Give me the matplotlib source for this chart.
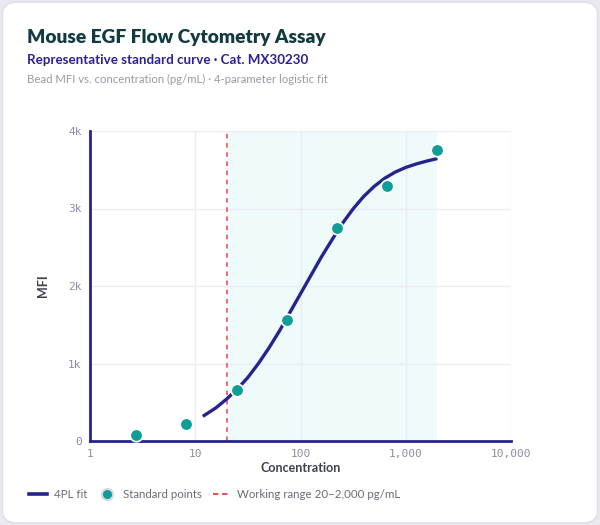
import matplotlib
matplotlib.use("Agg")
import matplotlib.pyplot as plt
from matplotlib.patches import FancyBboxPatch
from matplotlib.lines import Line2D
from matplotlib.ticker import FixedLocator, NullLocator

# ---- data ----
std_conc = [2.74, 8.23, 24.7, 74.1, 222, 667, 2000]
std_mfi = [80, 220, 660, 1560, 2750, 3290, 3750]

fit_conc = [11.8, 15.8, 20, 25.1, 31.6, 39.8, 50.1, 63.1, 79.4, 100, 126, 158,
            200, 251, 316, 398, 501, 631, 794, 1000, 1259, 1585, 2000]
fit_mfi = [318, 430, 545, 670, 820, 1000, 1200, 1420, 1660, 1900, 2140, 2375,
           2600, 2810, 2995, 3155, 3285, 3390, 3470, 3530, 3575, 3612, 3645]

range_low, range_high = 20, 2000
x_ticks = [1, 10, 100, 1000, 10000]
x_tick_labels = ["1", "10", "100", "1,000", "10,000"]
y_ticks = [0, 1000, 2000, 3000, 4000]
y_tick_labels = ["0", "1k", "2k", "3k", "4k"]

title = "Mouse EGF Flow Cytometry Assay"
subtitle = "Representative standard curve · Cat. MX30230"
note = "Bead MFI vs. concentration (pg/mL) · 4-parameter logistic fit"

# ---- style ----
FONT = ["Lato", "DejaVu Sans"]
MONO = ["DejaVu Sans Mono"]
NAVY = "#25248f"
TEAL = "#0f9e97"
RED = "#e0474f"
GRID = "#ececf4"
TICK = "#8c8ca0"

fig = plt.figure(figsize=(6.0, 5.25), dpi=100)
fig.patch.set_facecolor("#e9e9ef")

card = FancyBboxPatch((0.004, 0.004), 0.992, 0.992,
                      boxstyle="round,pad=0,rounding_size=0.025",
                      transform=fig.transFigure, facecolor="white",
                      edgecolor="#dedee6", linewidth=1.0, zorder=-5)
fig.patches.append(card)

fig.text(27/600, 1 - 37/525, title, fontsize=13.8, fontweight="heavy",
         color="#123b40", family=FONT, va="center")
fig.text(27/600, 1 - 60/525, subtitle, fontsize=9.6, fontweight="bold",
         color="#2b2096", family=FONT, va="center")
fig.text(27/600, 1 - 79/525, note, fontsize=8.2, color="#9a9aa8",
         family=FONT, va="center")

ax = fig.add_axes([90/600, 1 - 441/525, 421/600, 310/525])
ax.set_facecolor("white")
ax.set_xscale("log")
ax.set_xlim(1, 10000)
ax.set_ylim(0, 4000)

ax.axvspan(range_low, range_high, color="#effafa", zorder=0, lw=0)
ax.axvline(range_low, color=RED, lw=1.1, ls=(0, (3, 3)), zorder=2)

ax.xaxis.set_major_locator(FixedLocator(x_ticks))
ax.xaxis.set_minor_locator(NullLocator())
ax.set_xticklabels(x_tick_labels)
ax.yaxis.set_major_locator(FixedLocator(y_ticks))
ax.set_yticklabels(y_tick_labels)
ax.grid(True, color=GRID, lw=1.0, zorder=1)
ax.set_axisbelow(True)

for lab in ax.get_xticklabels() + ax.get_yticklabels():
    lab.set_family(MONO)
    lab.set_fontsize(8)
    lab.set_color(TICK)
ax.tick_params(axis="both", length=0)
ax.tick_params(axis="x", pad=6)
ax.tick_params(axis="y", pad=6)

for s in ["top", "right"]:
    ax.spines[s].set_visible(False)
ax.spines["left"].set_color(NAVY)
ax.spines["bottom"].set_color(NAVY)
ax.spines["left"].set_linewidth(2)
ax.spines["bottom"].set_linewidth(2)

ax.plot(fit_conc, fit_mfi, color=NAVY, lw=2.4, solid_capstyle="butt",
        solid_joinstyle="round", zorder=3)
ax.plot(std_conc, std_mfi, ls="none", marker="o", ms=9, mfc=TEAL,
        mec="white", mew=1.2, zorder=4, clip_on=False)

ax.set_xlabel("Concentration", fontsize=9, fontweight="bold",
              color="#3d4250", family=FONT, labelpad=2)
ax.set_ylabel("MFI", fontsize=9, fontweight="bold",
              color="#3d4250", family=FONT, labelpad=14)

handles = [
    Line2D([], [], color=NAVY, lw=2.6),
    Line2D([], [], ls="none", marker="o", ms=8, mfc=TEAL, mec="#d8d8e0", mew=1.5),
    Line2D([], [], color=RED, lw=1.3, ls=(0, (3, 2))),
]
labels = ["4PL fit", "Standard points", "Working range 20–2,000 pg/mL"]
fig.legend(handles, labels, loc="center left",
           bbox_to_anchor=(19/600, 1 - 495/525), ncol=3, frameon=False,
           prop={"family": FONT, "size": 8.3}, labelcolor="#6b6b7a",
           handlelength=1.5, handletextpad=0.6, columnspacing=1.0)

fig.savefig("out.png", dpi=100, facecolor=fig.get_facecolor())
